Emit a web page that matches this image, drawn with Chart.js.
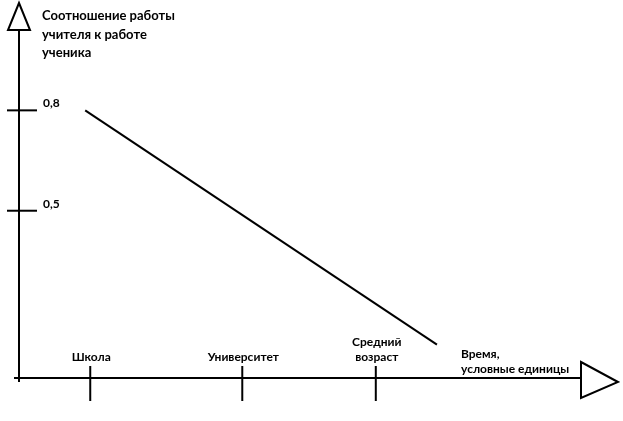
<!DOCTYPE html>
<html>
<head>
<meta charset="utf-8">
<script src="https://cdn.jsdelivr.net/npm/chart.js@4"></script>
<style>
  html, body { margin: 0; padding: 0; background: #fff; }
  #wrap { width: 623px; height: 421px; }
</style>
</head>
<body>
<div id="wrap"><canvas id="myChart" width="623" height="421"></canvas></div>
<script>
// x: time in conventional units (0..100 along the axis), y: teacher/student work ratio
var lineX = [11.8, 74.5];
var lineY = [0.8, 0.1];

var xTickPos = [12.7, 39.8, 63.6];
var xTickLabels = [["Школа"], ["Университет"], ["Средний", "возраст"]];

var yTickPos = [0.8, 0.5];
var yTickLabels = ["0,8", "0,5"];

var yTitle = ["Соотношение работы", "учителя к работе", "ученика"];
var xTitle = ["Время,", "условные единицы"];

var FONT = "bold 13px Lato, sans-serif";
var FONT_SMALL = "bold 12px Lato, sans-serif";

var points = [];
for (var i = 0; i < lineX.length; i++) {
    points.push({ x: lineX[i], y: lineY[i] });
}

// draws the hand-drawn looking axes, arrows, ticks and labels
var axesPlugin = {
    id: 'handAxes',
    afterDraw: function (chart) {
        var c = chart.ctx;
        var xs = chart.scales.x, ys = chart.scales.y;
        var x0 = xs.getPixelForValue(0);
        var y0 = ys.getPixelForValue(0);
        c.save();
        c.strokeStyle = '#000';
        c.fillStyle = '#000';
        c.lineWidth = 2;

        // y axis
        c.beginPath();
        c.moveTo(x0, y0 + 4);
        c.lineTo(x0, 30);
        c.stroke();
        // x axis
        c.beginPath();
        c.moveTo(14, y0);
        c.lineTo(xs.right + 1, y0);
        c.stroke();

        // arrows
        c.fillStyle = '#fff';
        c.beginPath();
        c.moveTo(x0, 3);
        c.lineTo(x0 + 11, 30);
        c.lineTo(x0 - 11, 30);
        c.closePath();
        c.fill();
        c.stroke();
        c.beginPath();
        c.moveTo(xs.right + 1, y0 - 16);
        c.lineTo(618, y0 + 4);
        c.lineTo(xs.right + 1, y0 + 20);
        c.closePath();
        c.fill();
        c.stroke();

        c.fillStyle = '#000';
        c.font = FONT_SMALL;
        c.textBaseline = 'alphabetic';

        // y ticks
        for (var i = 0; i < yTickPos.length; i++) {
            var py = ys.getPixelForValue(yTickPos[i]);
            c.beginPath();
            c.moveTo(x0 - 12, py);
            c.lineTo(x0 + 18, py);
            c.stroke();
            c.textAlign = 'left';
            c.fillText(yTickLabels[i], x0 + 24, py - 3);
        }

        // x ticks
        for (var j = 0; j < xTickPos.length; j++) {
            var px = xs.getPixelForValue(xTickPos[j]);
            c.beginPath();
            c.moveTo(px, y0 - 12);
            c.lineTo(px, y0 + 23);
            c.stroke();
            c.textAlign = 'center';
            var lbl = xTickLabels[j];
            for (var k = 0; k < lbl.length; k++) {
                c.fillText(lbl[k], px + 1, y0 - 17 - (lbl.length - 1 - k) * 15);
            }
        }

        // axis titles
        c.textAlign = 'left';
        c.font = FONT;
        for (var t = 0; t < yTitle.length; t++) {
            c.fillText(yTitle[t], 42, 20 + t * 18.5);
        }
        c.font = FONT_SMALL;
        for (var u = 0; u < xTitle.length; u++) {
            c.fillText(xTitle[u], 461, 358 + u * 15);
        }
        c.restore();
    }
};

var ctx = document.getElementById("myChart");
var myChart = new Chart(ctx, {
    type: 'scatter',
    data: {
        datasets: [{
            data: points,
            showLine: true,
            borderColor: '#000',
            borderWidth: 2,
            pointRadius: 0,
            fill: false
        }]
    },
    options: {
        responsive: false,
        animation: false,
        layout: { padding: { left: 19, right: 43, top: 10, bottom: 43 } },
        plugins: { legend: { display: false }, tooltip: { enabled: false } },
        scales: {
            x: { type: 'linear', min: 0, max: 100, display: false },
            y: { type: 'linear', min: 0, max: 1.1, display: false }
        }
    },
    plugins: [axesPlugin]
});
</script>
</body>
</html>
